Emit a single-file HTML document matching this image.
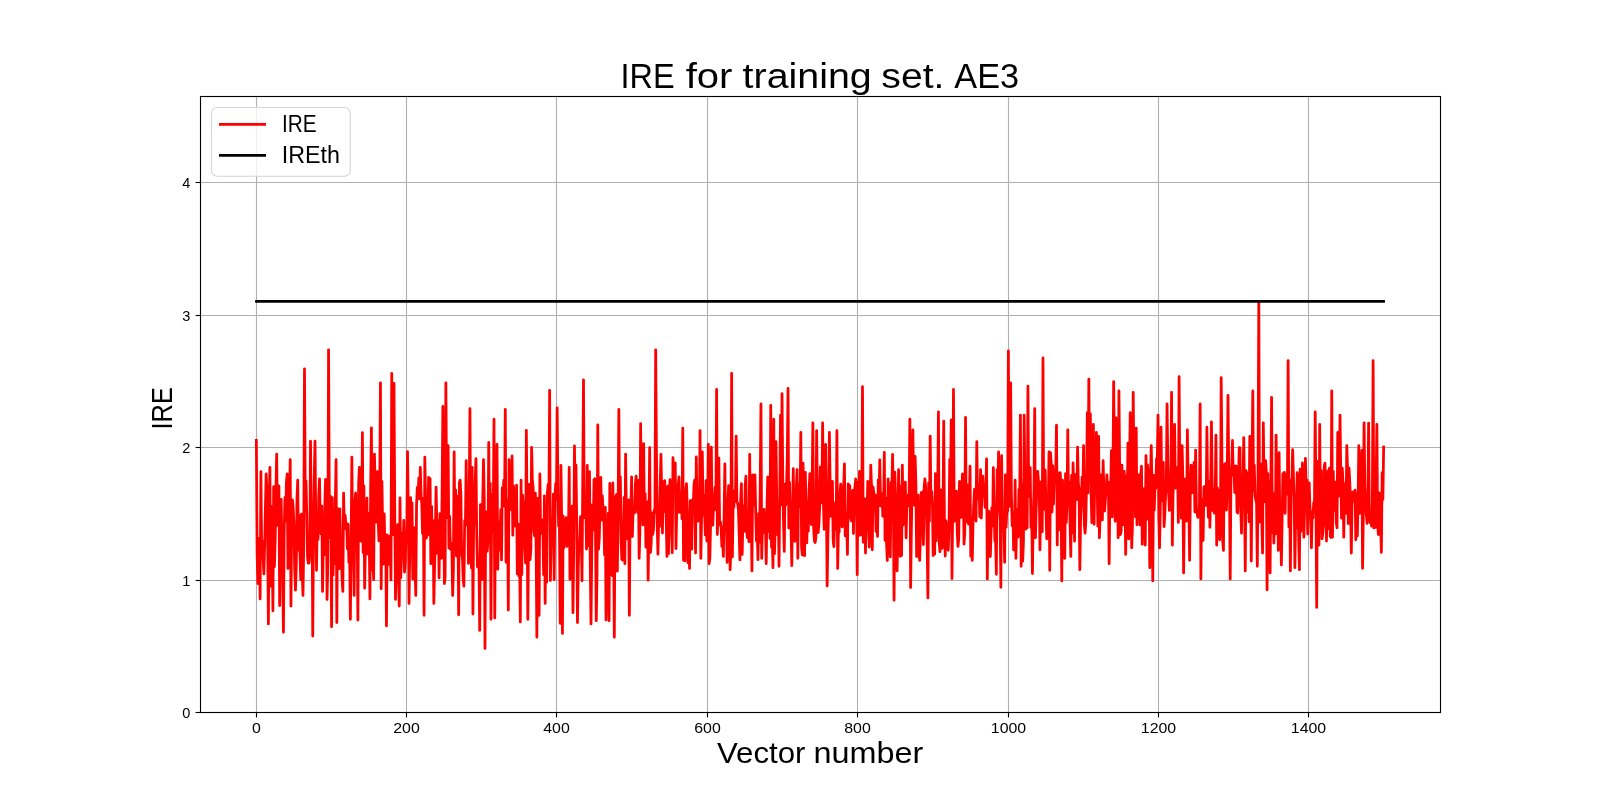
<!DOCTYPE html>
<html><head><meta charset="utf-8"><style>
html,body{margin:0;padding:0;background:#fff;width:1600px;height:800px;overflow:hidden}
svg{display:block;will-change:transform}
text{font-family:"Liberation Sans", sans-serif;fill:#000}
</style></head><body>
<svg width="1600" height="800" viewBox="0 0 1600 800">
<rect x="0" y="0" width="1600" height="800" fill="#fff"/>
<g stroke="#b0b0b0" stroke-width="1.11" fill="none">
<line x1="256.5" y1="96.5" x2="256.5" y2="712.5"/>
<line x1="406.5" y1="96.5" x2="406.5" y2="712.5"/>
<line x1="556.5" y1="96.5" x2="556.5" y2="712.5"/>
<line x1="707.5" y1="96.5" x2="707.5" y2="712.5"/>
<line x1="857.5" y1="96.5" x2="857.5" y2="712.5"/>
<line x1="1008.5" y1="96.5" x2="1008.5" y2="712.5"/>
<line x1="1158.5" y1="96.5" x2="1158.5" y2="712.5"/>
<line x1="1308.5" y1="96.5" x2="1308.5" y2="712.5"/>
<line x1="200.5" y1="712.5" x2="1440.5" y2="712.5"/>
<line x1="200.5" y1="580.5" x2="1440.5" y2="580.5"/>
<line x1="200.5" y1="447.5" x2="1440.5" y2="447.5"/>
<line x1="200.5" y1="315.5" x2="1440.5" y2="315.5"/>
<line x1="200.5" y1="182.5" x2="1440.5" y2="182.5"/>
</g>
<polyline points="256.36,440.41 257.12,553.26 257.87,583.53 258.62,538.33 259.37,539.02 260.12,598.89 260.88,471.54 261.63,544.14 262.38,541.11 263.13,557.51 263.88,573.92 264.64,545.75 265.39,508.76 266.14,473.92 266.89,488.59 267.64,537.66 268.40,623.93 269.15,506.08 269.90,467.30 270.65,586.18 271.40,506.27 272.16,540.62 272.91,610.82 273.66,486.70 274.41,566.77 275.16,541.55 275.92,491.78 276.67,454.05 277.42,525.31 278.17,500.78 278.92,485.89 279.68,605.52 280.43,517.47 281.18,499.49 281.93,548.04 282.68,574.82 283.44,632.14 284.19,531.42 284.94,497.50 285.69,520.97 286.44,482.06 287.20,473.92 287.95,568.44 288.70,504.43 289.45,504.49 290.20,459.75 290.96,606.05 291.71,519.47 292.46,499.93 293.21,508.36 293.96,526.59 294.72,570.06 295.47,590.15 296.22,567.95 296.97,499.11 297.72,480.17 298.48,550.30 299.23,515.28 299.98,555.01 300.73,579.68 301.48,514.16 302.24,573.63 302.99,595.45 303.74,544.97 304.49,368.87 305.24,497.24 306.00,480.95 306.75,514.38 307.50,556.29 308.25,563.11 309.00,563.11 309.76,554.47 310.51,441.07 311.26,519.67 312.01,504.80 312.76,635.99 313.52,529.37 314.27,477.74 315.02,441.07 315.77,520.05 316.52,570.28 317.28,516.76 318.03,539.50 318.78,494.54 319.53,478.82 320.29,523.50 321.04,533.88 321.79,506.15 322.54,591.47 323.29,543.61 324.05,554.99 324.80,506.60 325.55,479.40 326.30,483.96 327.05,599.42 327.81,563.15 328.56,349.79 329.31,502.02 330.06,537.56 330.81,496.65 331.57,626.71 332.32,497.73 333.07,574.87 333.82,537.34 334.57,563.68 335.33,501.31 336.08,459.75 336.83,622.61 337.58,508.64 338.33,558.92 339.09,568.64 339.84,508.79 340.59,539.62 341.34,552.75 342.09,578.83 342.85,591.47 343.60,493.12 344.35,528.80 345.10,515.09 345.85,524.27 346.61,523.31 347.36,548.61 348.11,524.46 348.86,562.39 349.61,549.38 350.37,619.29 351.12,543.32 351.87,457.23 352.62,546.42 353.37,535.71 354.13,595.45 354.88,501.85 355.63,492.86 356.38,549.63 357.13,523.48 357.89,620.09 358.64,483.27 359.39,467.30 360.14,522.61 360.89,541.18 361.65,535.16 362.40,432.72 363.15,552.56 363.90,485.98 364.65,588.16 365.41,545.43 366.16,522.11 366.91,498.05 367.66,554.09 368.41,513.09 369.17,529.90 369.92,598.89 370.67,484.84 371.42,427.82 372.17,569.91 372.93,559.30 373.68,579.64 374.43,454.05 375.18,485.47 375.93,522.22 376.69,502.72 377.44,471.54 378.19,520.91 378.94,540.85 379.69,496.98 380.45,382.78 381.20,588.82 381.95,481.42 382.70,532.06 383.45,564.08 384.21,514.01 384.96,552.94 385.71,536.86 386.46,625.92 387.21,534.89 387.97,537.19 388.72,564.48 389.47,537.20 390.22,535.86 390.97,579.97 391.73,373.51 392.48,523.04 393.23,534.54 393.98,383.44 394.73,506.65 395.49,599.42 396.24,540.49 396.99,535.47 397.74,524.68 398.49,581.38 399.25,606.05 400.00,498.01 400.75,577.76 401.50,557.12 402.25,532.59 403.01,553.18 403.76,520.35 404.51,572.03 405.26,562.60 406.01,531.62 406.77,536.74 407.52,451.53 408.27,507.40 409.02,603.40 409.78,551.72 410.53,497.64 411.28,522.39 412.03,502.85 412.78,579.07 413.54,534.34 414.29,527.74 415.04,568.82 415.79,595.45 416.54,505.27 417.30,487.37 418.05,497.26 418.80,477.94 419.55,498.90 420.30,467.30 421.06,493.73 421.81,504.02 422.56,533.45 423.31,498.41 424.06,615.32 424.82,457.23 425.57,498.72 426.32,538.11 427.07,533.10 427.82,534.97 428.58,477.34 429.33,513.68 430.08,478.65 430.83,563.67 431.58,506.49 432.34,552.46 433.09,520.53 433.84,603.40 434.59,567.08 435.34,532.65 436.10,487.02 436.85,527.33 437.60,553.46 438.35,521.14 439.10,577.98 439.86,513.66 440.61,556.72 441.36,558.19 442.11,492.70 442.86,406.49 443.62,489.56 444.37,583.53 445.12,577.08 445.87,382.78 446.62,491.84 447.38,517.78 448.13,445.70 448.88,547.98 449.63,516.45 450.38,549.17 451.14,542.99 451.89,549.62 452.64,595.45 453.39,569.83 454.14,451.80 454.90,533.73 455.65,489.92 456.40,556.03 457.15,496.21 457.90,514.06 458.66,614.79 459.41,482.45 460.16,480.15 460.91,495.53 461.66,555.35 462.42,556.73 463.17,579.27 463.92,586.18 464.67,520.56 465.42,524.33 466.18,460.54 466.93,524.85 467.68,493.62 468.43,563.39 469.18,503.30 469.94,408.61 470.69,543.45 471.44,567.97 472.19,467.30 472.94,613.99 473.70,516.93 474.45,523.57 475.20,479.66 475.95,458.55 476.70,533.10 477.46,566.92 478.21,558.08 478.96,558.92 479.71,630.42 480.46,504.61 481.22,521.64 481.97,579.50 482.72,500.89 483.47,459.75 484.22,497.22 484.98,648.44 485.73,511.81 486.48,534.14 487.23,551.18 487.98,539.57 488.74,442.39 489.49,540.59 490.24,483.48 490.99,619.29 491.74,494.68 492.50,531.86 493.25,516.53 494.00,419.21 494.75,617.97 495.50,505.60 496.26,549.18 497.01,444.38 497.76,569.14 498.51,522.47 499.26,550.06 500.02,535.69 500.77,509.61 501.52,559.90 502.27,487.61 503.03,495.75 503.78,480.20 504.53,506.16 505.28,409.27 506.03,562.25 506.79,519.39 507.54,499.28 508.29,610.02 509.04,459.75 509.79,510.01 510.55,497.46 511.30,504.71 512.05,455.90 512.80,535.20 513.55,485.99 514.31,524.99 515.06,525.92 515.81,520.69 516.56,485.20 517.31,573.87 518.07,523.92 518.82,576.09 519.57,554.08 520.32,621.94 521.07,480.15 521.83,574.63 522.58,495.21 523.33,506.07 524.08,501.96 524.83,546.41 525.59,562.91 526.34,430.34 527.09,509.47 527.84,619.29 528.59,530.43 529.35,484.47 530.10,559.56 530.85,549.19 531.60,447.29 532.35,479.63 533.11,487.16 533.86,530.62 534.61,535.83 535.36,493.04 536.11,545.91 536.87,637.18 537.62,498.48 538.37,558.79 539.12,615.32 539.87,473.92 540.63,533.42 541.38,528.59 542.13,520.22 542.88,529.49 543.63,574.67 544.39,495.88 545.14,603.40 545.89,523.30 546.64,582.13 547.39,492.87 548.15,484.44 548.90,503.66 549.65,390.46 550.40,580.54 551.15,541.70 551.91,533.74 552.66,535.25 553.41,494.11 554.16,579.55 554.91,500.43 555.67,483.53 556.42,499.26 557.17,407.82 557.92,492.76 558.67,526.12 559.43,525.22 560.18,623.27 560.93,465.31 561.68,521.68 562.43,633.47 563.19,516.08 563.94,547.82 564.69,522.32 565.44,529.50 566.19,517.67 566.95,546.38 567.70,527.62 568.45,537.64 569.20,467.30 569.95,579.28 570.71,558.55 571.46,530.86 572.21,506.04 572.96,612.67 573.71,550.39 574.47,445.97 575.22,507.49 575.97,464.78 576.72,521.21 577.47,622.61 578.23,569.15 578.98,542.40 579.73,540.54 580.48,516.67 581.23,530.54 581.99,580.75 582.74,481.49 583.49,380.00 584.24,512.28 584.99,517.86 585.75,495.92 586.50,549.02 587.25,465.31 588.00,545.70 588.75,535.14 589.51,471.54 590.26,565.78 591.01,623.93 591.76,549.63 592.52,504.65 593.27,530.09 594.02,479.86 594.77,478.82 595.52,532.30 596.28,620.62 597.03,573.19 597.78,424.77 598.53,549.21 599.28,538.42 600.04,503.40 600.79,477.50 601.54,520.16 602.29,495.61 603.04,509.39 603.80,512.40 604.55,554.71 605.30,507.39 606.05,619.96 606.80,560.55 607.56,547.22 608.31,513.21 609.06,620.62 609.81,483.45 610.56,562.42 611.32,562.81 612.07,575.49 612.82,482.97 613.57,538.81 614.32,637.18 615.08,499.25 615.83,496.26 616.58,494.41 617.33,571.13 618.08,516.57 618.84,409.27 619.59,516.11 620.34,476.91 621.09,540.68 621.84,559.37 622.60,560.05 623.35,542.36 624.10,497.28 624.85,563.73 625.60,454.05 626.36,516.87 627.11,538.77 627.86,518.80 628.61,499.87 629.36,615.32 630.12,514.84 630.87,508.34 631.62,476.97 632.37,536.53 633.12,508.52 633.88,512.98 634.63,512.79 635.38,483.92 636.13,476.17 636.88,502.79 637.64,512.32 638.39,480.30 639.14,558.36 639.89,533.28 640.64,423.58 641.40,518.16 642.15,499.66 642.90,524.93 643.65,443.58 644.40,523.83 645.16,493.68 645.91,547.23 646.66,534.62 647.41,502.01 648.16,580.21 648.92,521.97 649.67,447.56 650.42,552.42 651.17,543.60 651.92,513.01 652.68,534.52 653.43,530.27 654.18,510.26 654.93,512.36 655.68,349.79 656.44,452.59 657.19,524.04 657.94,554.22 658.69,519.06 659.44,526.55 660.20,483.69 660.95,454.32 661.70,492.33 662.45,533.08 663.20,481.83 663.96,511.53 664.71,480.71 665.46,502.35 666.21,518.47 666.96,556.37 667.72,486.24 668.47,553.60 669.22,514.35 669.97,479.75 670.72,510.74 671.48,526.09 672.23,552.73 672.98,457.63 673.73,482.63 674.48,489.03 675.24,462.93 675.99,548.50 676.74,509.79 677.49,512.59 678.24,484.69 679.00,476.84 679.75,512.34 680.50,496.16 681.25,492.98 682.00,518.77 682.76,428.09 683.51,560.34 684.26,548.73 685.01,560.89 685.77,490.54 686.52,483.72 687.27,508.67 688.02,562.85 688.77,519.57 689.53,568.42 690.28,500.61 691.03,545.48 691.78,549.09 692.53,499.90 693.29,503.70 694.04,483.72 694.79,479.79 695.54,553.01 696.29,456.96 697.05,508.90 697.80,521.11 698.55,493.12 699.30,517.33 700.05,430.60 700.81,558.36 701.56,519.61 702.31,451.93 703.06,514.91 703.81,495.03 704.57,510.89 705.32,534.84 706.07,480.53 706.82,540.99 707.57,507.79 708.33,444.38 709.08,563.65 709.83,558.38 710.58,524.19 711.33,447.03 712.09,519.49 712.84,525.11 713.59,503.80 714.34,498.99 715.09,487.07 715.85,509.60 716.60,389.40 717.35,534.51 718.10,505.81 718.85,458.16 719.61,524.97 720.36,521.75 721.11,527.67 721.86,546.55 722.61,538.58 723.37,556.37 724.12,514.55 724.87,463.85 725.62,527.24 726.37,515.08 727.13,562.41 727.88,503.97 728.63,485.71 729.38,490.75 730.13,569.62 730.89,548.99 731.64,373.51 732.39,556.96 733.14,501.43 733.89,507.18 734.65,490.67 735.40,501.36 736.15,436.03 736.90,501.78 737.65,503.00 738.41,509.54 739.16,533.11 739.91,559.97 740.66,499.96 741.41,483.72 742.17,554.38 742.92,519.74 743.67,505.75 744.42,531.16 745.17,485.49 745.93,476.17 746.68,530.81 747.43,537.53 748.18,532.38 748.93,541.68 749.69,454.45 750.44,537.87 751.19,506.33 751.94,570.94 752.69,474.85 753.45,490.17 754.20,504.82 754.95,474.85 755.70,512.01 756.45,540.92 757.21,528.86 757.96,559.70 758.71,513.32 759.46,542.05 760.21,486.86 760.97,403.98 761.72,558.36 762.47,526.02 763.22,511.48 763.97,509.37 764.73,532.56 765.48,525.37 766.23,563.65 766.98,506.90 767.73,476.84 768.49,531.47 769.24,494.89 769.99,538.50 770.74,405.30 771.49,547.36 772.25,538.67 773.00,567.63 773.75,419.21 774.50,553.72 775.26,525.05 776.01,441.73 776.76,500.71 777.51,534.66 778.26,504.91 779.02,566.30 779.77,490.29 780.52,415.24 781.27,504.82 782.02,393.64 782.78,479.95 783.53,523.40 784.28,551.36 785.03,484.19 785.78,504.85 786.54,486.25 787.29,456.30 788.04,388.48 788.79,527.88 789.54,482.35 790.30,526.45 791.05,527.30 791.80,565.64 792.55,507.07 793.30,468.75 794.06,540.50 794.81,541.19 795.56,535.03 796.31,487.71 797.06,469.55 797.82,558.36 798.57,483.84 799.32,506.52 800.07,501.12 800.82,432.46 801.58,547.26 802.33,554.91 803.08,463.19 803.83,533.42 804.58,555.71 805.34,472.46 806.09,506.55 806.84,542.78 807.59,501.13 808.34,531.10 809.10,490.13 809.85,473.52 810.60,506.74 811.35,524.51 812.10,487.99 812.86,422.79 813.61,527.49 814.36,540.69 815.11,542.46 815.86,537.51 816.62,430.60 817.37,490.25 818.12,532.51 818.87,524.60 819.62,508.96 820.38,466.90 821.13,502.89 821.88,502.29 822.63,422.79 823.38,501.66 824.14,529.24 824.89,445.70 825.64,444.38 826.39,502.07 827.14,585.91 827.90,537.60 828.65,509.37 829.40,432.46 830.15,483.77 830.90,516.29 831.66,514.53 832.41,481.47 833.16,540.71 833.91,546.53 834.66,518.16 835.42,502.56 836.17,529.38 836.92,430.60 837.67,568.42 838.42,529.60 839.18,532.30 839.93,494.15 840.68,484.12 841.43,494.25 842.18,526.89 842.94,522.74 843.69,485.86 844.44,463.85 845.19,535.84 845.94,512.38 846.70,523.52 847.45,554.38 848.20,483.81 848.95,497.96 849.70,485.45 850.46,517.63 851.21,520.78 851.96,505.68 852.71,490.34 853.46,533.51 854.22,495.00 854.97,486.77 855.72,478.96 856.47,498.40 857.22,574.65 857.98,482.08 858.73,535.56 859.48,471.27 860.23,490.30 860.98,534.98 861.74,510.88 862.49,386.75 863.24,542.30 863.99,515.59 864.74,498.86 865.50,553.06 866.25,506.18 867.00,521.85 867.75,481.34 868.51,527.24 869.26,547.05 870.01,519.43 870.76,465.05 871.51,486.69 872.27,549.75 873.02,486.97 873.77,493.05 874.52,510.49 875.27,494.83 876.03,531.44 876.78,516.40 877.53,536.37 878.28,479.79 879.03,499.00 879.79,460.01 880.54,505.91 881.29,495.69 882.04,493.73 882.79,516.27 883.55,511.58 884.30,452.33 885.05,540.47 885.80,497.94 886.55,542.93 887.31,560.52 888.06,478.82 888.81,521.38 889.56,539.19 890.31,556.98 891.07,482.27 891.82,492.76 892.57,454.45 893.32,501.94 894.07,600.22 894.83,472.20 895.58,497.28 896.33,537.80 897.08,570.94 897.83,529.07 898.59,469.55 899.34,539.21 900.09,556.30 900.84,485.84 901.59,555.51 902.35,465.05 903.10,525.02 903.85,508.31 904.60,507.91 905.35,482.13 906.11,537.85 906.86,503.87 907.61,506.16 908.36,494.59 909.11,495.44 909.87,419.21 910.62,587.50 911.37,529.80 912.12,485.19 912.87,429.81 913.63,494.09 914.38,505.06 915.13,456.30 915.88,483.63 916.63,556.55 917.39,549.25 918.14,495.14 918.89,550.41 919.64,560.34 920.39,538.66 921.15,492.56 921.90,504.97 922.65,491.84 923.40,544.57 924.15,487.66 924.91,478.82 925.66,486.85 926.41,509.41 927.16,544.25 927.91,597.97 928.67,483.00 929.42,521.07 930.17,436.03 930.92,500.75 931.67,491.33 932.43,504.50 933.18,555.57 933.93,523.77 934.68,554.19 935.43,473.52 936.19,540.61 936.94,512.52 937.69,496.95 938.44,411.79 939.19,542.32 939.95,551.73 940.70,489.97 941.45,503.20 942.20,548.26 942.95,525.23 943.71,421.20 944.46,525.41 945.21,556.03 945.96,520.83 946.71,526.35 947.47,543.03 948.22,550.23 948.97,530.13 949.72,459.35 950.47,490.57 951.23,419.87 951.98,578.49 952.73,503.58 953.48,389.40 954.23,521.34 954.99,500.52 955.74,508.80 956.49,491.04 957.24,532.32 958.00,546.37 958.75,538.48 959.50,481.47 960.25,498.51 961.00,517.38 961.76,490.49 962.51,473.79 963.26,481.45 964.01,544.10 964.76,532.84 965.52,417.36 966.27,521.81 967.02,484.75 967.77,508.20 968.52,524.09 969.28,500.17 970.03,466.24 970.78,556.34 971.53,542.93 972.28,560.34 973.04,521.73 973.79,503.66 974.54,489.19 975.29,512.65 976.04,521.02 976.80,441.73 977.55,498.88 978.30,493.97 979.05,484.17 979.80,516.65 980.56,469.55 981.31,518.08 982.06,485.02 982.81,476.17 983.56,495.85 984.32,488.04 985.07,507.30 985.82,489.36 986.57,458.82 987.32,578.89 988.08,517.90 988.83,511.19 989.58,534.92 990.33,556.50 991.08,531.52 991.84,507.67 992.59,526.01 993.34,467.56 994.09,507.43 994.84,540.92 995.60,539.70 996.35,574.25 997.10,469.55 997.85,485.42 998.60,451.93 999.36,507.73 1000.11,518.39 1000.86,587.24 1001.61,455.64 1002.36,518.27 1003.12,518.98 1003.87,522.40 1004.62,562.33 1005.37,474.85 1006.12,527.11 1006.88,509.19 1007.63,511.22 1008.38,350.99 1009.13,487.57 1009.88,506.26 1010.64,382.78 1011.39,494.01 1012.14,525.74 1012.89,512.07 1013.64,549.92 1014.40,536.32 1015.15,480.15 1015.90,558.36 1016.65,523.59 1017.40,509.32 1018.16,537.08 1018.91,489.30 1019.66,502.12 1020.41,415.24 1021.16,566.30 1021.92,483.90 1022.67,561.12 1023.42,542.32 1024.17,415.24 1024.92,484.16 1025.68,529.09 1026.43,516.81 1027.18,527.86 1027.93,386.09 1028.68,496.38 1029.44,489.96 1030.19,467.56 1030.94,527.47 1031.69,511.61 1032.44,573.59 1033.20,516.60 1033.95,491.52 1034.70,408.61 1035.45,537.83 1036.20,507.30 1036.96,488.83 1037.71,471.27 1038.46,481.07 1039.21,482.65 1039.96,549.75 1040.72,503.36 1041.47,481.57 1042.22,531.84 1042.97,358.01 1043.72,509.21 1044.48,494.68 1045.23,470.08 1045.98,510.24 1046.73,538.80 1047.48,527.78 1048.24,511.30 1048.99,451.93 1049.74,570.28 1050.49,452.59 1051.25,464.08 1052.00,512.09 1052.75,465.78 1053.50,504.02 1054.25,477.21 1055.01,471.27 1055.76,469.30 1056.51,425.17 1057.26,545.11 1058.01,472.65 1058.77,529.93 1059.52,483.37 1060.27,472.57 1061.02,490.19 1061.77,580.88 1062.53,480.15 1063.28,512.44 1064.03,495.82 1064.78,558.36 1065.53,473.52 1066.29,522.49 1067.04,499.70 1067.79,429.81 1068.54,506.37 1069.29,481.90 1070.05,524.49 1070.80,556.37 1071.55,475.47 1072.30,532.99 1073.05,462.97 1073.81,495.03 1074.56,541.13 1075.31,474.72 1076.06,499.25 1076.81,499.33 1077.57,447.03 1078.32,482.87 1079.07,488.81 1079.82,569.62 1080.57,520.38 1081.33,506.30 1082.08,477.25 1082.83,490.91 1083.58,445.70 1084.33,524.73 1085.09,533.19 1085.84,520.77 1086.59,477.30 1087.34,412.59 1088.09,492.88 1088.85,379.07 1089.60,481.67 1090.35,413.91 1091.10,493.17 1091.85,522.59 1092.61,477.94 1093.36,424.51 1094.11,524.27 1094.86,472.91 1095.61,489.16 1096.37,432.46 1097.12,483.29 1097.87,526.22 1098.62,436.43 1099.37,537.74 1100.13,516.26 1100.88,474.85 1101.63,486.10 1102.38,519.94 1103.13,460.74 1103.89,491.37 1104.64,510.96 1105.39,498.89 1106.14,488.95 1106.89,474.85 1107.65,493.07 1108.40,482.24 1109.15,563.65 1109.90,490.31 1110.65,494.94 1111.41,450.61 1112.16,516.87 1112.91,477.11 1113.66,381.59 1114.41,460.73 1115.17,521.26 1115.92,417.88 1116.67,470.03 1117.42,470.49 1118.17,537.70 1118.93,390.99 1119.68,471.54 1120.43,534.51 1121.18,530.62 1121.93,465.06 1122.69,513.16 1123.44,524.61 1124.19,471.27 1124.94,497.49 1125.69,554.38 1126.45,475.78 1127.20,501.23 1127.95,443.05 1128.70,538.96 1129.45,478.87 1130.21,412.59 1130.96,478.70 1131.71,547.76 1132.46,525.43 1133.21,392.32 1133.97,473.75 1134.72,470.88 1135.47,516.93 1136.22,428.09 1136.97,524.79 1137.73,485.35 1138.48,474.85 1139.23,489.55 1139.98,524.95 1140.74,475.40 1141.49,466.24 1142.24,544.19 1142.99,500.18 1143.74,517.76 1144.50,488.30 1145.25,545.11 1146.00,455.64 1146.75,519.39 1147.50,464.98 1148.26,475.49 1149.01,472.53 1149.76,567.63 1150.51,472.64 1151.26,445.70 1152.02,491.25 1152.77,580.88 1153.52,475.31 1154.27,509.99 1155.02,485.19 1155.78,488.29 1156.53,458.82 1157.28,460.61 1158.03,415.24 1158.78,515.88 1159.54,547.76 1160.29,510.22 1161.04,427.16 1161.79,500.95 1162.54,464.13 1163.30,462.55 1164.05,526.56 1164.80,513.96 1165.55,496.19 1166.30,484.80 1167.06,403.98 1167.81,463.30 1168.56,490.18 1169.31,510.41 1170.06,495.47 1170.82,485.59 1171.57,392.32 1172.32,545.11 1173.07,491.93 1173.82,483.13 1174.58,424.51 1175.33,487.99 1176.08,467.32 1176.83,485.02 1177.58,467.93 1178.34,522.48 1179.09,376.55 1179.84,486.57 1180.59,477.28 1181.34,518.18 1182.10,445.70 1182.85,478.39 1183.60,572.93 1184.35,509.91 1185.10,479.22 1185.86,497.03 1186.61,521.06 1187.36,429.81 1188.11,476.75 1188.86,506.66 1189.62,560.34 1190.37,485.29 1191.12,465.05 1191.87,492.78 1192.62,491.47 1193.38,472.67 1194.13,462.33 1194.88,511.89 1195.63,450.08 1196.38,507.18 1197.14,513.52 1197.89,517.39 1198.64,513.87 1199.39,509.01 1200.14,403.98 1200.90,578.89 1201.65,499.10 1202.40,520.35 1203.15,540.42 1203.90,487.12 1204.66,486.38 1205.41,501.80 1206.16,505.49 1206.91,427.16 1207.66,493.15 1208.42,517.29 1209.17,481.36 1209.92,527.26 1210.67,481.83 1211.42,421.86 1212.18,481.34 1212.93,510.78 1213.68,489.36 1214.43,513.20 1215.18,500.32 1215.94,435.11 1216.69,545.11 1217.44,487.98 1218.19,505.64 1218.94,490.36 1219.70,539.79 1220.45,520.09 1221.20,377.75 1221.95,460.74 1222.70,540.92 1223.46,550.41 1224.21,464.53 1224.96,490.97 1225.71,463.48 1226.46,509.99 1227.22,475.42 1227.97,395.36 1228.72,466.11 1229.47,488.83 1230.22,578.89 1230.98,470.59 1231.73,466.53 1232.48,440.41 1233.23,475.14 1233.99,473.75 1234.74,492.55 1235.49,466.00 1236.24,466.24 1236.99,511.90 1237.75,513.07 1238.50,479.53 1239.25,447.56 1240.00,447.82 1240.75,507.46 1241.51,533.19 1242.26,475.74 1243.01,483.93 1243.76,437.76 1244.51,494.32 1245.27,570.94 1246.02,470.73 1246.77,472.86 1247.52,512.00 1248.27,476.24 1249.03,521.70 1249.78,436.43 1250.53,464.61 1251.28,561.01 1252.03,468.11 1252.79,390.99 1253.54,490.93 1254.29,465.22 1255.04,495.57 1255.79,499.81 1256.55,502.62 1257.30,566.30 1258.05,469.29 1258.80,302.63 1259.55,521.91 1260.31,511.76 1261.06,464.25 1261.81,520.80 1262.56,553.06 1263.31,422.79 1264.07,482.64 1264.82,501.76 1265.57,460.61 1266.32,471.28 1267.07,589.75 1267.83,473.72 1268.58,517.71 1269.33,481.27 1270.08,572.93 1270.83,486.49 1271.59,397.35 1272.34,532.49 1273.09,493.49 1273.84,543.08 1274.59,508.41 1275.35,533.89 1276.10,435.11 1276.85,504.78 1277.60,498.02 1278.35,550.41 1279.11,452.73 1279.86,524.21 1280.61,509.37 1281.36,564.98 1282.11,521.28 1282.87,473.52 1283.62,504.38 1284.37,472.28 1285.12,513.25 1285.87,475.03 1286.63,478.35 1287.38,494.16 1288.13,360.52 1288.88,526.89 1289.63,479.98 1290.39,570.94 1291.14,490.73 1291.89,482.06 1292.64,449.68 1293.39,474.89 1294.15,497.28 1294.90,567.63 1295.65,514.95 1296.40,528.32 1297.15,472.69 1297.91,478.82 1298.66,539.95 1299.41,569.62 1300.16,469.05 1300.91,531.45 1301.67,502.44 1302.42,463.00 1303.17,506.45 1303.92,537.16 1304.67,506.67 1305.43,458.29 1306.18,488.00 1306.93,479.81 1307.68,534.07 1308.43,486.31 1309.19,482.91 1309.94,506.97 1310.69,514.50 1311.44,547.76 1312.19,512.36 1312.95,517.90 1313.70,502.64 1314.45,505.20 1315.20,411.79 1315.95,499.99 1316.71,607.37 1317.46,461.48 1318.21,500.26 1318.96,545.11 1319.71,424.51 1320.47,525.49 1321.22,470.41 1321.97,538.85 1322.72,533.95 1323.48,525.24 1324.23,466.24 1324.98,463.18 1325.73,486.56 1326.48,541.09 1327.24,500.53 1327.99,470.87 1328.74,528.85 1329.49,468.08 1330.24,536.34 1331.00,537.41 1331.75,390.99 1332.50,537.16 1333.25,471.36 1334.00,510.31 1334.76,496.10 1335.51,482.16 1336.26,522.59 1337.01,527.74 1337.76,432.46 1338.52,496.28 1339.27,491.69 1340.02,415.24 1340.77,473.49 1341.52,518.22 1342.28,468.22 1343.03,483.91 1343.78,537.16 1344.53,483.95 1345.28,495.26 1346.04,513.42 1346.79,445.70 1347.54,468.78 1348.29,523.55 1349.04,468.22 1349.80,483.02 1350.55,503.48 1351.30,553.06 1352.05,502.44 1352.80,491.90 1353.56,499.32 1354.31,500.97 1355.06,490.24 1355.81,539.81 1356.56,494.08 1357.32,535.94 1358.07,500.40 1358.82,445.70 1359.57,513.39 1360.32,494.31 1361.08,477.06 1361.83,450.34 1362.58,568.29 1363.33,513.79 1364.08,422.79 1364.84,485.80 1365.59,502.27 1366.34,514.30 1367.09,523.39 1367.84,508.30 1368.60,423.18 1369.35,517.37 1370.10,522.59 1370.85,518.61 1371.60,526.09 1372.36,503.25 1373.11,360.52 1373.86,527.89 1374.61,514.79 1375.36,527.44 1376.12,481.44 1376.87,424.51 1377.62,523.87 1378.37,534.51 1379.12,492.87 1379.88,523.30 1380.63,525.16 1381.38,552.39 1382.13,472.52 1382.88,499.39 1383.64,447.03" fill="none" stroke="#ff0000" stroke-width="2.78" stroke-linejoin="round" stroke-linecap="square"/>
<line x1="256.5" y1="301.3" x2="1383.64" y2="301.3" stroke="#000" stroke-width="2.78" stroke-linecap="square"/>
<rect x="200.5" y="96.5" width="1240" height="616" fill="none" stroke="#000" stroke-width="1.11"/>
<g stroke="#000" stroke-width="1.11">
<line x1="256.5" y1="712.5" x2="256.5" y2="717.4"/>
<line x1="406.5" y1="712.5" x2="406.5" y2="717.4"/>
<line x1="556.5" y1="712.5" x2="556.5" y2="717.4"/>
<line x1="707.5" y1="712.5" x2="707.5" y2="717.4"/>
<line x1="857.5" y1="712.5" x2="857.5" y2="717.4"/>
<line x1="1008.5" y1="712.5" x2="1008.5" y2="717.4"/>
<line x1="1158.5" y1="712.5" x2="1158.5" y2="717.4"/>
<line x1="1308.5" y1="712.5" x2="1308.5" y2="717.4"/>
<line x1="195.6" y1="712.5" x2="200.5" y2="712.5"/>
<line x1="195.6" y1="580.5" x2="200.5" y2="580.5"/>
<line x1="195.6" y1="447.5" x2="200.5" y2="447.5"/>
<line x1="195.6" y1="315.5" x2="200.5" y2="315.5"/>
<line x1="195.6" y1="182.5" x2="200.5" y2="182.5"/>
</g>
<text x="256.50" y="733" text-anchor="middle" font-size="14.7" textLength="8.85" lengthAdjust="spacingAndGlyphs">0</text>
<text x="406.50" y="733" text-anchor="middle" font-size="14.7" textLength="26.55" lengthAdjust="spacingAndGlyphs">200</text>
<text x="556.50" y="733" text-anchor="middle" font-size="14.7" textLength="26.55" lengthAdjust="spacingAndGlyphs">400</text>
<text x="707.50" y="733" text-anchor="middle" font-size="14.7" textLength="26.55" lengthAdjust="spacingAndGlyphs">600</text>
<text x="857.50" y="733" text-anchor="middle" font-size="14.7" textLength="26.55" lengthAdjust="spacingAndGlyphs">800</text>
<text x="1008.50" y="733" text-anchor="middle" font-size="14.7" textLength="35.40" lengthAdjust="spacingAndGlyphs">1000</text>
<text x="1158.50" y="733" text-anchor="middle" font-size="14.7" textLength="35.40" lengthAdjust="spacingAndGlyphs">1200</text>
<text x="1308.50" y="733" text-anchor="middle" font-size="14.7" textLength="35.40" lengthAdjust="spacingAndGlyphs">1400</text>
<text x="190.3" y="717.50" text-anchor="end" font-size="14.7" textLength="8.10" lengthAdjust="spacingAndGlyphs">0</text>
<text x="190.3" y="585.50" text-anchor="end" font-size="14.7" textLength="8.10" lengthAdjust="spacingAndGlyphs">1</text>
<text x="190.3" y="452.50" text-anchor="end" font-size="14.7" textLength="8.10" lengthAdjust="spacingAndGlyphs">2</text>
<text x="190.3" y="320.50" text-anchor="end" font-size="14.7" textLength="8.10" lengthAdjust="spacingAndGlyphs">3</text>
<text x="190.3" y="187.50" text-anchor="end" font-size="14.7" textLength="8.10" lengthAdjust="spacingAndGlyphs">4</text>
<text x="620.45" y="88" font-size="35.3" textLength="54.15" lengthAdjust="spacingAndGlyphs">IRE</text>
<text x="685.69" y="88" font-size="35.3" textLength="46.75" lengthAdjust="spacingAndGlyphs">for</text>
<text x="742.61" y="88" font-size="35.3" textLength="129.07" lengthAdjust="spacingAndGlyphs">training</text>
<text x="881.33" y="88" font-size="35.3" textLength="63.09" lengthAdjust="spacingAndGlyphs">set.</text>
<text x="954.34" y="88" font-size="35.3" textLength="64.67" lengthAdjust="spacingAndGlyphs">AE3</text>
<text x="717.00" y="763.2" font-size="29.4" textLength="88.52" lengthAdjust="spacingAndGlyphs">Vector</text>
<text x="813.61" y="763.2" font-size="29.4" textLength="109.75" lengthAdjust="spacingAndGlyphs">number</text>
<g transform="translate(172,429.5) rotate(-90)"><text x="0" y="0" font-size="29.8" textLength="42.4" lengthAdjust="spacingAndGlyphs">IRE</text></g>
<rect x="211.5" y="107.5" width="138.7" height="68.7" rx="5.5" ry="5.5" fill="#fff" fill-opacity="0.8" stroke="#d5d5d5" stroke-width="1.11"/>
<line x1="219" y1="124.4" x2="266" y2="124.4" stroke="#ff0000" stroke-width="2.78"/>
<line x1="219" y1="155.3" x2="266" y2="155.3" stroke="#000" stroke-width="2.78"/>
<text x="281.96" y="132.1" font-size="23.0" textLength="34.62" lengthAdjust="spacingAndGlyphs">IRE</text>
<text x="281.74" y="162.9" font-size="23.0" textLength="58.20" lengthAdjust="spacingAndGlyphs">IREth</text>
</svg>
</body></html>
